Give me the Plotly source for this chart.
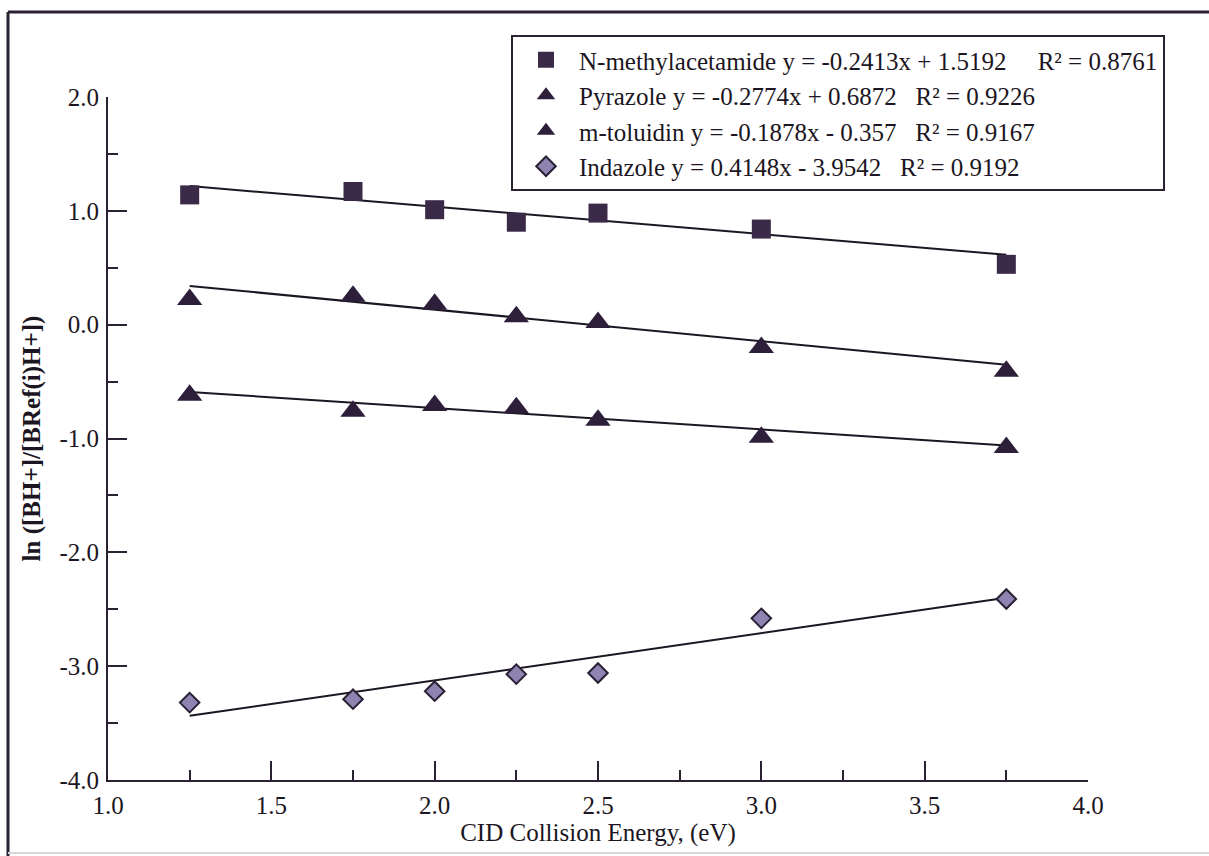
import plotly.graph_objects as go

# ---------------- data ----------------
energy = [1.25, 1.75, 2.0, 2.25, 2.5, 3.0, 3.75]
n_methylacetamide = [1.14, 1.17, 1.01, 0.90, 0.98, 0.84, 0.53]
pyrazole = [0.22, 0.25, 0.18, 0.07, 0.02, -0.20, -0.41]
m_toluidin = [-0.62, -0.76, -0.71, -0.73, -0.84, -0.99, -1.08]
indazole = [-3.32, -3.29, -3.22, -3.07, -3.06, -2.58, -2.41]

series_names = ["N-methylacetamide", "Pyrazole", "m-toluidin", "Indazole"]
slopes = [-0.2413, -0.2774, -0.1878, 0.4148]
intercepts = [1.5192, 0.6872, -0.357, -3.9542]
r_squared = [0.8761, 0.9226, 0.9167, 0.9192]

x_ticks = [1.0, 1.5, 2.0, 2.5, 3.0, 3.5, 4.0]
y_ticks = [-4.0, -3.0, -2.0, -1.0, 0.0, 1.0, 2.0]

# ---------------- styling ----------------
W, H = 1209, 856
L, R, T, B = 108, 1088, 97, 780
FONT = "Liberation Serif"
INK = "#2a2133"
TXT = "#1c1622"

symbols = ["square", "triangle-up", "triangle-up", "diamond"]
sizes = [19, 22, 22, 15]
fills = ["#3a2a47", "#2d1f3a", "#2d1f3a", "#8e84b2"]
edges = ["#3a2a47", "#2d1f3a", "#2d1f3a", "#2a2035"]
edge_w = [0, 0, 0, 2]
gap_spaces = [5, 3, 3, 3]

values = [n_methylacetamide, pyrazole, m_toluidin, indazole]


def px_x(p):
    return (p - L) / (R - L)


def px_y(p):
    return (B - p) / (B - T)


def label(name, m, b, r2, nsp):
    sign = "+" if b >= 0 else "-"
    gap = "\u00a0" * nsp
    return f"{name} y = {m}x {sign} {abs(b)}{gap}R\u00b2 = {r2}"


fig = go.Figure()

# trendlines
x0, x1 = min(energy), max(energy)
for m, b in zip(slopes, intercepts):
    fig.add_trace(go.Scatter(
        x=[x0, x1], y=[m * x0 + b, m * x1 + b], mode="lines",
        line=dict(color="#1c1622", width=2), showlegend=False, hoverinfo="skip"))

# points
for i, (name, ys) in enumerate(zip(series_names, values)):
    fig.add_trace(go.Scatter(
        x=energy, y=ys, mode="markers",
        name=label(name, slopes[i], intercepts[i], r_squared[i], gap_spaces[i]),
        marker=dict(symbol=symbols[i], size=sizes[i], color=fills[i],
                    line=dict(color=edges[i], width=edge_w[i]))))

axis_common = dict(
    showgrid=False, zeroline=False, showline=True, linecolor=INK, linewidth=2,
    ticks="inside", tickcolor=INK, tickwidth=2, ticklen=19,
    tickfont=dict(family=FONT, size=25, color=TXT),
    minor=dict(ticks="inside", ticklen=10, tickcolor=INK, tickwidth=2),
)

fig.update_xaxes(
    range=[1.0, 4.0], tickvals=x_ticks, ticktext=[f"{v:.1f}" for v in x_ticks],
    minor_dtick=0.25, ticklabelstandoff=2,
    title=dict(text="CID Collision Energy, (eV)", standoff=0,
               font=dict(family=FONT, size=25, color=TXT)),
    **axis_common)
fig.update_yaxes(
    range=[-4.0, 2.0], tickvals=y_ticks, ticktext=[f"{v:.1f}" for v in y_ticks],
    minor_dtick=0.5, ticklabelstandoff=2,
    title=dict(text="<b>ln ([BH+]/[BRef(i)H+])</b>", standoff=12,
               font=dict(family=FONT, size=25, color=TXT)),
    **axis_common)

# outer frame
fig.add_shape(type="line", xref="paper", yref="paper",
              x0=px_x(8), x1=px_x(W), y0=px_y(12), y1=px_y(12),
              line=dict(color=INK, width=3))
fig.add_shape(type="line", xref="paper", yref="paper",
              x0=px_x(8), x1=px_x(8), y0=px_y(12), y1=px_y(H),
              line=dict(color=INK, width=3))
fig.add_shape(type="line", xref="paper", yref="paper",
              x0=px_x(8), x1=px_x(W), y0=px_y(853), y1=px_y(853),
              line=dict(color="#d6d6d6", width=2))

fig.update_layout(
    width=W, height=H, autosize=False,
    margin=dict(l=L, r=W - R, t=T, b=H - B, pad=0),
    paper_bgcolor="white", plot_bgcolor="white",
    font=dict(family=FONT, color=TXT),
    legend=dict(
        x=px_x(511), y=px_y(35), xanchor="left", yanchor="top",
        bgcolor="white", bordercolor=INK, borderwidth=2,
        font=dict(family=FONT, size=25, color=TXT),
        itemwidth=56, itemsizing="trace",
    ),
    showlegend=True,
)

fig.write_html("out.html")
